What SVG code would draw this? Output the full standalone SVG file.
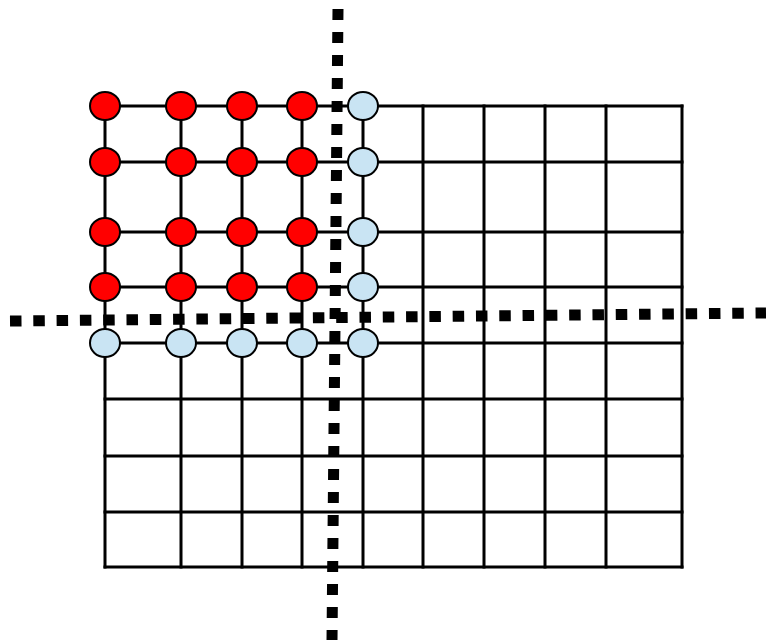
<svg xmlns="http://www.w3.org/2000/svg" width="766" height="640" viewBox="0 0 766 640">
<style>
.g{stroke:#000;stroke-width:3;fill:none;stroke-linecap:square}
.d{stroke:#000;stroke-width:11;fill:none}
.r{fill:#ff0000;stroke:#000;stroke-width:2}
.b{fill:#c9e4f3;stroke:#000;stroke-width:2}
</style>
<rect width="766" height="640" fill="#fff"/>
<g id="connectors">
<g class="g">
<line x1="105" y1="106" x2="682" y2="106"/>
<line x1="105" y1="162" x2="682" y2="162"/>
<line x1="105" y1="232" x2="682" y2="232"/>
<line x1="105" y1="287" x2="682" y2="287"/>
<line x1="105" y1="343" x2="682" y2="343"/>
<line x1="105" y1="399" x2="682" y2="399"/>
<line x1="105" y1="456" x2="682" y2="456"/>
<line x1="105" y1="512" x2="682" y2="512"/>
<line x1="105" y1="567" x2="682" y2="567"/>
<line x1="105" y1="106" x2="105" y2="567"/>
<line x1="181" y1="106" x2="181" y2="567"/>
<line x1="242" y1="106" x2="242" y2="567"/>
<line x1="302" y1="106" x2="302" y2="567"/>
<line x1="363" y1="106" x2="363" y2="567"/>
<line x1="423" y1="106" x2="423" y2="567"/>
<line x1="484" y1="106" x2="484" y2="567"/>
<line x1="545" y1="106" x2="545" y2="567"/>
<line x1="606" y1="106" x2="606" y2="567"/>
<line x1="682" y1="106" x2="682" y2="567"/>
</g>
<line class="d" x1="338" y1="9" x2="332" y2="640" stroke-dasharray="11 12"/>
<line class="d" x1="10" y1="321" x2="766" y2="313" stroke-dasharray="11.5 11.8"/>
</g>
<g id="n-0-0"><ellipse class="r" cx="105" cy="106" rx="15" ry="14"/></g>
<g id="n-1-0"><ellipse class="r" cx="181" cy="106" rx="15" ry="14"/></g>
<g id="n-2-0"><ellipse class="r" cx="242" cy="106" rx="15" ry="14"/></g>
<g id="n-3-0"><ellipse class="r" cx="302" cy="106" rx="15" ry="14"/></g>
<g id="n-4-0"><ellipse class="b" cx="363" cy="106" rx="15" ry="14"/></g>
<g id="n-0-1"><ellipse class="r" cx="105" cy="162" rx="15" ry="14"/></g>
<g id="n-1-1"><ellipse class="r" cx="181" cy="162" rx="15" ry="14"/></g>
<g id="n-2-1"><ellipse class="r" cx="242" cy="162" rx="15" ry="14"/></g>
<g id="n-3-1"><ellipse class="r" cx="302" cy="162" rx="15" ry="14"/></g>
<g id="n-4-1"><ellipse class="b" cx="363" cy="162" rx="15" ry="14"/></g>
<g id="n-0-2"><ellipse class="r" cx="105" cy="232" rx="15" ry="14"/></g>
<g id="n-1-2"><ellipse class="r" cx="181" cy="232" rx="15" ry="14"/></g>
<g id="n-2-2"><ellipse class="r" cx="242" cy="232" rx="15" ry="14"/></g>
<g id="n-3-2"><ellipse class="r" cx="302" cy="232" rx="15" ry="14"/></g>
<g id="n-4-2"><ellipse class="b" cx="363" cy="232" rx="15" ry="14"/></g>
<g id="n-0-3"><ellipse class="r" cx="105" cy="287" rx="15" ry="14"/></g>
<g id="n-1-3"><ellipse class="r" cx="181" cy="287" rx="15" ry="14"/></g>
<g id="n-2-3"><ellipse class="r" cx="242" cy="287" rx="15" ry="14"/></g>
<g id="n-3-3"><ellipse class="r" cx="302" cy="287" rx="15" ry="14"/></g>
<g id="n-4-3"><ellipse class="b" cx="363" cy="287" rx="15" ry="14"/></g>
<g id="n-0-4"><ellipse class="b" cx="105" cy="343" rx="15" ry="14"/></g>
<g id="n-1-4"><ellipse class="b" cx="181" cy="343" rx="15" ry="14"/></g>
<g id="n-2-4"><ellipse class="b" cx="242" cy="343" rx="15" ry="14"/></g>
<g id="n-3-4"><ellipse class="b" cx="302" cy="343" rx="15" ry="14"/></g>
<g id="n-4-4"><ellipse class="b" cx="363" cy="343" rx="15" ry="14"/></g>
</svg>
